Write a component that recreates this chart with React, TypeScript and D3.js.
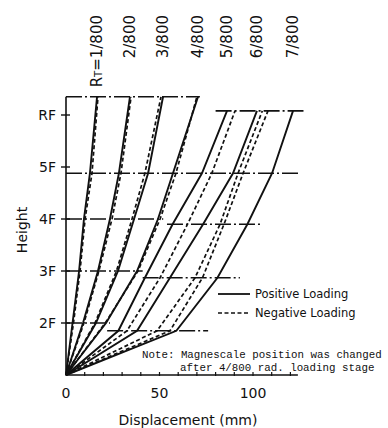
import React from "react";
import * as d3 from "d3";

// Drift levels
const driftLabels = ["1/800", "2/800", "3/800", "4/800", "5/800", "6/800", "7/800"];
// Measurement heights (floor units) before / after the magnescale change
const heightsA = [0, 1, 2, 3, 3.88, 5.35];
const heightsB = [0, 0.85, 1.87, 2.9, 3.88, 5.08];
const groupOf = [0, 0, 0, 0, 1, 1, 1];

// Positive loading displacement (mm) at each measured height
const positive = [
  [0, 3.5, 7, 9.6, 12.8, 16.6],
  [0, 9.1, 17.1, 23.5, 28.3, 34.2],
  [0, 16, 27.8, 36.4, 43.9, 51.9],
  [0, 21.4, 38, 49.2, 57.2, 70.6],
  [0, 28, 42.2, 57, 72.7, 86.1],
  [0, 38, 55.6, 73.3, 89.3, 102.1],
  [0, 59, 81, 97, 110.2, 121.4],
];
// Negative loading displacement (mm)
const negative = [
  [0, 4, 7.5, 10.2, 13.9, 17.1],
  [0, 9.6, 17.6, 24.6, 29.4, 34.8],
  [0, 15.5, 27, 35.3, 42.2, 50.8],
  [0, 21, 38.5, 50.3, 58.8, 70],
  [0, 32.6, 50.3, 65, 78, 90.4],
  [0, 48.7, 69, 82.4, 92, 105],
  [0, 55.6, 73, 84.5, 94.7, 108],
];

// Floor reference lines: [height, x from (mm), x to (mm)]
const floorLinesA = [
  [1, 0, 23.5],
  [2, 0, 41],
  [3, 0, 52],
  [3.88, 0, 125],
  [5.35, 0, 71.6],
];
const floorLinesB = [
  [0.85, 22, 76],
  [1.87, 41, 93],
  [2.9, 54, 105],
  [5.08, 80, 127],
];

const yTickValues = [1, 2, 3, 4, 5];
const yTickLabels = ["2F", "3F", "4F", "5F", "RF"];
const xTickLabelValues = [0, 50, 100];
const xMinorTicks = d3.range(0, 121, 10);

export default function App() {
  const x = d3.scaleLinear().domain([0, 100]).range([66, 253]);
  const y = d3.scaleLinear().domain([0, 5]).range([375, 115]);
  const line = d3
    .line<[number, number]>()
    .x((d) => x(d[0]))
    .y((d) => y(d[1]));

  const pts = (vals: number[], i: number): [number, number][] => {
    const hs = groupOf[i] === 0 ? heightsA : heightsB;
    return vals.map((v, k) => [v, hs[k]]);
  };

  const dashDot = "16,3,2,3";
  const font = "'DejaVu Sans', sans-serif";

  return (
    <svg width={388} height={428} style={{ position: "absolute", left: 0, top: 0, background: "#fff" }}>
      <rect width={388} height={428} fill="#fff" />
      {/* floor reference lines */}
      {floorLinesA.map((f, i) => (
        <line key={"fa" + i} x1={x(f[1])} x2={x(f[2])} y1={y(f[0])} y2={y(f[0])} stroke="#111" strokeWidth={1.6} strokeDasharray={dashDot} />
      ))}
      {floorLinesB.map((f, i) => (
        <line key={"fb" + i} x1={x(f[1])} x2={x(f[2])} y1={y(f[0])} y2={y(f[0])} stroke="#111" strokeWidth={1.6} strokeDasharray={dashDot} />
      ))}
      {/* axes */}
      <line x1={x(0)} x2={x(0)} y1={y(0)} y2={y(5.35)} stroke="#111" strokeWidth={1.6} />
      <line x1={x(0)} x2={x(124)} y1={y(0)} y2={y(0)} stroke="#111" strokeWidth={1.6} />
      {xMinorTicks.map((t) => (
        <line key={"xt" + t} x1={x(t)} x2={x(t)} y1={y(0) - 3} y2={y(0) + 1} stroke="#111" strokeWidth={1.2} />
      ))}
      {yTickValues.map((t, i) => (
        <g key={"yt" + t}>
          <line x1={x(0) - 5} x2={x(0) + 4} y1={y(t)} y2={y(t)} stroke="#111" strokeWidth={1.4} />
          <text x={56} y={y(t)} dy="0.35em" textAnchor="end" fontSize={14} fontFamily={font} fill="#111">
            {yTickLabels[i]}
          </text>
        </g>
      ))}
      {xTickLabelValues.map((t) => (
        <text key={"xl" + t} x={x(t)} y={398} textAnchor="middle" fontSize={14} fontFamily={font} fill="#111">
          {t}
        </text>
      ))}
      <text x={188} y={425} textAnchor="middle" fontSize={14} fontFamily={font} fill="#111">
        Displacement (mm)
      </text>
      <text transform={`translate(27,230) rotate(-90)`} textAnchor="middle" fontSize={14} fontFamily={font} fill="#111">
        Height
      </text>
      {/* curves */}
      {negative.map((vals, i) => (
        <path key={"n" + i} d={line(pts(vals, i)) || ""} fill="none" stroke="#111" strokeWidth={1.7} strokeDasharray="4,2.5" />
      ))}
      {positive.map((vals, i) => (
        <path key={"p" + i} d={line(pts(vals, i)) || ""} fill="none" stroke="#111" strokeWidth={1.9} />
      ))}
      {/* drift labels */}
      {driftLabels.map((lab, i) => {
        const top = positive[i][positive[i].length - 1];
        return (
          <text key={"dl" + i} transform={`translate(${x(top) + 5},15) rotate(-90)`} textAnchor="end" fontSize={15} fontFamily={font} fill="#111">
            {i === 0 ? (
              <>
                R<tspan fontSize={10}>T</tspan>={lab}
              </>
            ) : (
              lab
            )}
          </text>
        );
      })}
      {/* legend */}
      <line x1={218} x2={250} y1={294} y2={294} stroke="#111" strokeWidth={1.8} />
      <text x={255} y={294} dy="0.35em" fontSize={11.5} fontFamily={font} fill="#111">Positive Loading</text>
      <line x1={218} x2={250} y1={313} y2={313} stroke="#111" strokeWidth={1.6} strokeDasharray="4,2.5" />
      <text x={255} y={313} dy="0.35em" fontSize={11.5} fontFamily={font} fill="#111">Negative Loading</text>
      {/* note */}
      <text x={142} y={358} fontSize={10.8} fontFamily="'Liberation Mono', monospace" fill="#111">
        Note: Magnescale position was changed
      </text>
      <text x={180} y={371} fontSize={10.8} fontFamily="'Liberation Mono', monospace" fill="#111">
        after 4/800 rad. loading stage
      </text>
    </svg>
  );
}
